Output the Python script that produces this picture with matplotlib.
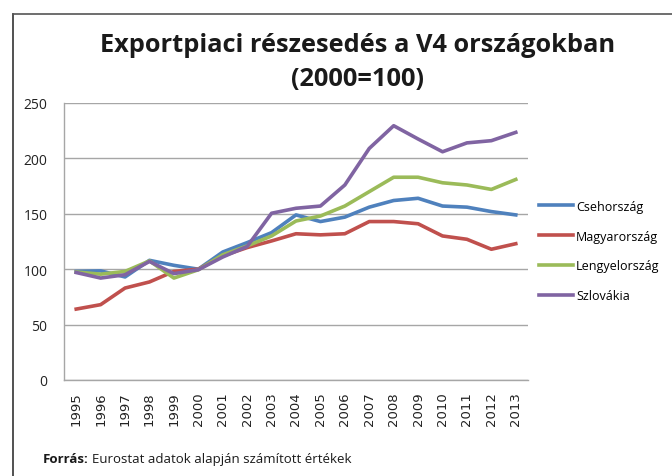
import matplotlib.pyplot as plt
from matplotlib.lines import Line2D

years = [str(y) for y in range(1995, 2014)]
cseh = [98, 98.5, 93, 108, 103.5, 100, 115.5, 124, 133, 149, 143, 147, 156, 162, 164, 157, 156, 152, 149]
magyar = [64, 68, 83, 88.5, 98, 100, 112, 119.5, 125.5, 132, 131, 132, 143, 143, 141, 130, 127, 118, 123]
lengyel = [97.5, 95.5, 98, 107.5, 92, 99.5, 113, 121, 130, 143.5, 148, 157, 170, 183, 183, 178, 176, 172, 181]
szlovak = [97, 92, 95, 107, 96, 99.5, 111, 120.5, 150.5, 155, 157, 176, 209, 229.5, 217.5, 206, 214, 216, 223.5]

names = ["Csehország", "Magyarország", "Lengyelország", "Szlovákia"]
colors = ["#4F81BD", "#C0504D", "#9BBB59", "#8064A2"]

plt.rcParams["font.family"] = ["Open Sans", "DejaVu Sans"]

W, H = 672, 477
fig = plt.figure(figsize=(W / 100, H / 100), dpi=100)
ax = fig.add_axes([64 / W, 1 - 381 / H, 464 / W, 277 / H])

x = list(range(len(years)))
for series, name, color in zip([cseh, magyar, lengyel, szlovak], names, colors):
    ax.plot(x, series, color=color, linewidth=2.6, label=name, solid_joinstyle="round")

ax.set_xlim(-0.5, len(years) - 0.5)
ax.set_ylim(0, 250)
ax.set_yticks(range(0, 251, 50))
ax.set_xticks(x)
ax.set_xticklabels(years, rotation=90, fontsize=9.5, family="DejaVu Sans", color="#222222")
ax.tick_params(axis="y", labelsize=10, length=0, pad=12, labelcolor="#222222")
ax.tick_params(axis="x", length=0, pad=8)
ax.grid(axis="y", color="#A6A6A6", linewidth=1)
ax.set_axisbelow(True)
for s in ["top", "right"]:
    ax.spines[s].set_visible(False)
for s in ["left", "bottom"]:
    ax.spines[s].set_color("#A6A6A6")
    ax.spines[s].set_linewidth(1)

handles = [Line2D([0], [0], color=c, linewidth=2.6) for c in colors]
fig.legend(handles, names, loc="center left", bbox_to_anchor=(533 / W, 1 - 252 / H),
           frameon=False, fontsize=9, handlelength=2.7, handletextpad=0.25, labelspacing=1.35,
           borderpad=0)

fig.text(358 / W, 1 - 45 / H, "Exportpiaci részesedés a V4 országokban",
         ha="center", va="center", fontsize=18.3, fontweight="bold", color="#1a1a1a")
fig.text(358 / W, 1 - 79 / H, "(2000=100)",
         ha="center", va="center", fontsize=18.3, fontweight="bold", color="#1a1a1a")

# forrás sor: félkövér rész + normál rész utána
src = fig.text(43 / W, 1 - 460 / H, "Forrás:", ha="left", va="center",
               fontsize=9.5, fontweight="bold", color="#1a1a1a")
fig.canvas.draw()
bb = src.get_window_extent()
fig.text((bb.x1 + 3) / W, 1 - 460 / H, "Eurostat adatok alapján számított értékek",
         ha="left", va="center", fontsize=9.5, color="#1a1a1a")

# keret
fig.add_artist(Line2D([13 / W, 13 / W], [0, 1 - 15 / H], color="#333333", linewidth=1.2,
                      transform=fig.transFigure))
fig.add_artist(Line2D([13 / W, 1], [1 - 15 / H, 1 - 15 / H], color="#555555", linewidth=1.2,
                      transform=fig.transFigure))

fig.savefig("out.png", dpi=100, facecolor="white")
